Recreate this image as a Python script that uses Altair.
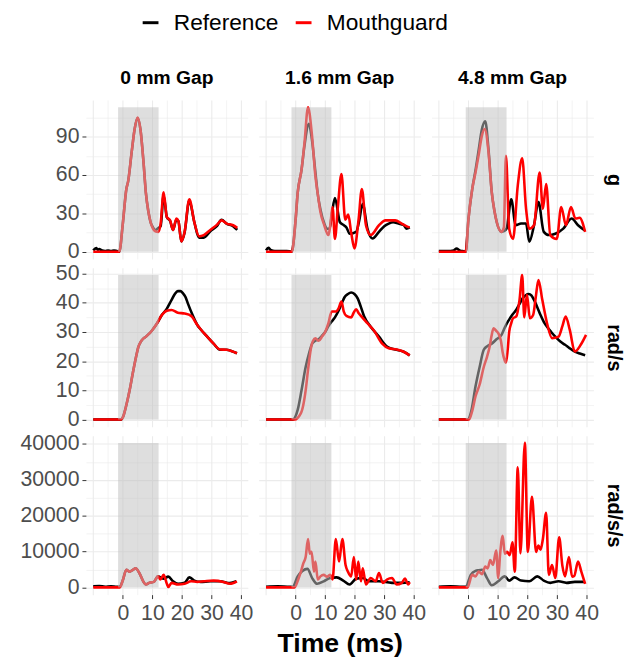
import altair as alt
import pandas as pd

FONT = "Liberation Sans"
SERIES = ["Reference", "Mouthguard"]
COLORS = ["#000000", "#ff0000"]
GAPS = ["0 mm Gap", "1.6 mm Gap", "4.8 mm Gap"]
UNITS = ["g", "rad/s", "rad/s/s"]

# ---------------- row "g" ----------------
G0_REF_T = [-10, -9, -8.5, -8, -7, -6, -5, -4, -3, -2, -1.2, 0, 1.2, 1.8, 3, 4, 5, 6, 7, 7.8, 8.6, 9.4, 10.2, 11, 12, 12.8, 13.8, 14.9, 16, 17, 18.1, 18.8, 19.8, 20.9, 22.5, 24.2, 25.8, 27.4, 29.6, 31.8, 33.4, 35.1, 37.3, 38.7]
G0_REF_V = [1, 2.8, 1.5, 2, 1, 0.6, 1, 0.5, 1, 0.5, 0, 22, 49, 55, 78, 96, 104.6, 95, 70, 46, 32, 23, 19, 17, 18.5, 20, 44, 27, 24, 17, 25, 24, 8, 15, 40, 23, 11, 11, 16, 20, 25, 22, 20, 17]
G0_MG_T = [-10, -1.2, 0, 1.2, 1.8, 3, 4, 5, 6, 7, 7.8, 8.6, 9.4, 10.2, 11, 12, 12.8, 13.8, 14.9, 16, 17, 18.1, 18.8, 19.8, 20.9, 22.5, 24.2, 25.8, 27.4, 29.6, 31.8, 33.4, 35.1, 37.3, 38.7]
G0_MG_V = [0, 0, 22, 49, 55, 78, 96, 105, 95, 70, 46, 32, 23, 18, 16, 15.5, 22, 46.5, 27, 24.5, 17, 26, 24, 8, 15.5, 41, 23, 12, 13, 17, 21, 24.5, 22, 20.7, 18.6]

G16_REF_T = [-10, -9.2, -8.5, -7, -5, -3, -1.3, 0, 0.7, 2, 3, 4.5, 5.5, 6.7, 7.5, 8.4, 9.7, 10.6, 11.5, 12.3, 13.3, 15, 16.1, 17.2, 18.3, 20.5, 21.5, 22.7, 24.3, 26, 28.2, 30, 31.5, 33, 34.8, 36.5, 37.5, 38.6]
G16_REF_V = [1, 3, 1.5, 0.5, 0.5, 0.5, 0, 25, 46, 64, 83, 100, 88, 62, 45, 33, 22, 18, 18, 30, 42, 23, 21, 19, 14, 15.5, 24, 37.5, 18, 10.3, 15.5, 20, 22, 23, 22, 21, 18, 19]
G16_MG_T = [-10, -1.3, 0, 0.7, 2, 3, 4.2, 5.5, 6.7, 7.5, 8.4, 9.7, 11.1, 11.7, 12.5, 13.3, 14.3, 15.5, 16.8, 17.8, 18.8, 19.9, 21.3, 22.4, 23.8, 25.4, 28.2, 30.4, 33.7, 35.9, 38, 38.6]
G16_MG_V = [0, 0, 25, 46, 64, 85, 113, 92, 59, 45, 31, 20.7, 13, 20, 35, 10, 35, 60.7, 25, 29, 15, 2.6, 25, 49, 20.7, 13, 20.7, 24.5, 24.5, 22, 19.4, 19]

G48_REF_T = [-10, -7, -5, -4, -3, -2, -0.9, 0, 1.3, 2.5, 3.5, 4.5, 5.7, 6.8, 7.9, 8.8, 9.6, 11.2, 12, 12.9, 14.5, 16, 17.8, 19.5, 20.6, 22.2, 23.7, 25.5, 27.2, 29.4, 32.1, 34.9, 37.1, 39.3]
G48_REF_V = [0.5, 0.5, 1, 2.5, 1, 0.5, 0, 25, 49, 65, 80, 95, 102, 80, 46.5, 32, 23, 15.5, 16, 18, 41, 20.7, 22, 22, 7.8, 20.7, 38.8, 15.5, 13, 14, 18, 26, 20.7, 16.8]
G48_MG_T = [-10, -0.9, 0, 1.3, 2.5, 3.5, 4.5, 5.5, 6.8, 7.9, 8.8, 9.6, 11.2, 12, 12.7, 13.8, 15.1, 16.7, 18.2, 19.5, 20.6, 22.2, 24.1, 25.2, 26.3, 27.7, 29.9, 31.4, 33, 34.7, 36.2, 37.6, 39.5]
G48_MG_V = [0, 0, 25, 49, 63, 76, 90, 96, 78, 46.5, 32, 23, 15.5, 19, 75, 18, 10, 51.7, 73, 33.6, 18, 20.7, 62, 33.6, 53, 13, 10, 35, 20.7, 35, 26, 26.5, 15.5]

# ---------------- row "rad/s" ----------------
V0_REF_T = [-10, -0.5, 0.1, 1.2, 2.3, 3.4, 4.5, 5.3, 6.1, 7, 7.8, 9, 10, 11.6, 13.2, 14.9, 16.5, 17.6, 18.6, 19.5, 20.3, 21.2, 22, 23.6, 25.2, 26.6, 28, 30.7, 32.9, 35.1, 36.7, 38.6]
V0_REF_V = [0, 0, 1, 5, 10, 16, 21.6, 25, 26.7, 27.8, 28.4, 29.5, 30.7, 33, 35.8, 38, 41, 43, 44, 44, 43.3, 42, 39.8, 35.8, 32.4, 30.6, 29, 26, 23.9, 23.9, 23.5, 22.7]
V0_MG_T = [-10, -0.5, 0.1, 1.2, 2.3, 3.4, 4.5, 5.3, 6.1, 7, 7.8, 9, 10, 11.6, 13.2, 14.9, 16.5, 18.6, 20.9, 23.1, 25.2, 26.6, 28, 30.7, 32.9, 35.1, 36.7, 38.6]
V0_MG_V = [0, 0, 1, 5, 10, 16, 21.6, 25, 26.7, 27.8, 28.4, 29.5, 30.7, 33, 35.8, 37.3, 37.5, 36.6, 36.3, 35.5, 32.4, 30.6, 29, 26, 24, 23.9, 23.5, 22.7]

V16_REF_T = [-10, -1, 0.7, 2, 3.4, 4.5, 5.6, 6.7, 7.8, 9, 10, 11.1, 12.2, 13.3, 14.4, 15.5, 16.6, 17.7, 18.8, 19.9, 21, 22.1, 23.2, 25.4, 28.2, 30.9, 33.7, 36.4, 38.6]
V16_REF_V = [0, 0, 3.3, 10, 18, 22.5, 26, 27, 27.5, 28.8, 30, 32, 33.6, 35, 37, 39.5, 42, 43, 43.5, 43, 41.5, 38.5, 35.3, 31.8, 28.4, 25, 24, 23.3, 22]
V16_MG_T = [-10, -0.4, 1.8, 2.6, 3.4, 4.2, 5.1, 5.9, 6.7, 7.8, 9, 10, 11.1, 12.2, 13.6, 14.5, 15.5, 16.3, 17.2, 18.8, 19.6, 20.5, 21.3, 22.1, 24.3, 26.5, 29.3, 31.5, 34.2, 36.4, 38.6]
V16_MG_V = [0, 0, 2.2, 5, 10, 17, 23.9, 27, 27.8, 27, 28.5, 30, 33, 37, 37, 38, 40.4, 37, 35.5, 35, 36.5, 37.8, 36.5, 35.5, 33, 30.5, 26, 24.4, 24, 23.3, 22]

V48_REF_T = [-10, -0.3, 1, 2.4, 3.8, 5.2, 6.5, 7.9, 9.5, 11.2, 12.3, 13.4, 14.8, 16.2, 17.3, 18.4, 19.4, 20.4, 21.3, 22.2, 23.3, 24.4, 25.5, 26.6, 28, 29.4, 31, 32.7, 34.3, 36, 37.7, 39.5]
V48_REF_V = [0, 0, 3, 11.3, 18, 23.9, 25.2, 26, 27.5, 29, 31.5, 33.6, 35.8, 37.6, 39.6, 41.6, 42.6, 43, 42.5, 41, 38.5, 35.8, 33.5, 31.8, 30, 28.4, 26.8, 25.6, 24.4, 23.3, 22.6, 22]
V48_MG_T = [-10, 0.2, 1.3, 2.4, 3.8, 5.2, 6.3, 7.2, 7.8, 8.5, 9.3, 10.1, 11, 11.6, 12.2, 12.7, 13.3, 13.8, 14.5, 15.1, 16.2, 17.3, 18.2, 18.9, 19.8, 20.8, 21.9, 22.8, 23.7, 25, 26.6, 28.3, 30.5, 31.8, 32.9, 34.3, 36, 38, 39.8]
V48_MG_V = [0, 0, 3, 7.9, 12, 18, 21.5, 25, 28.5, 31.3, 30.5, 29.6, 27, 23, 20.5, 19.5, 24, 30, 33, 34.7, 35.3, 41, 49.5, 35, 42.7, 34.7, 35.8, 42, 47.8, 41, 33, 27.9, 28.4, 32, 35.3, 30.7, 23.3, 25.6, 29]

# ---------------- row "rad/s/s" ----------------
A0_REF_T = [-10, -8, -6, -4, -2, -1, 0, 1.2, 2.3, 3.4, 4.3, 5.6, 6.9, 7.8, 8.9, 10.5, 11.9, 12.7, 13.8, 15.4, 17, 18.7, 20.9, 22.5, 24.2, 26.3, 29.6, 32.9, 36.2, 38.4]
A0_REF_V = [300, 400, 200, 300, 200, 200, 2000, 4900, 4400, 4900, 5350, 4000, 1700, 800, 1270, 1540, 3080, 2800, 2450, 3000, 1700, 1000, 1270, 2800, 1900, 1540, 1700, 1700, 1200, 1700]
A0_MG_T = [-10, -1, 0, 1.2, 2.3, 3.4, 4.3, 5.6, 6.9, 7.8, 8.9, 10.5, 11.9, 12.7, 13.8, 14.9, 15.4, 16.5, 18.7, 20.9, 23.1, 25.2, 27.4, 30.7, 34, 36.2, 38.6]
A0_MG_V = [0, 0, 2000, 4900, 4400, 4900, 5350, 4000, 1700, 800, 1270, 1540, 3080, 2200, 3500, 1000, 100, 1270, 800, 1000, 1700, 1540, 1700, 1900, 1540, 1000, 1700]

A16_REF_T = [-10, -6, -2, -1, 0.7, 2.3, 4, 5.6, 7.3, 9.5, 11.7, 13.9, 16.1, 18.3, 20.5, 22.7, 24.9, 28.2, 32.6, 35.9, 38.6]
A16_REF_V = [200, 300, 200, 200, 3080, 4600, 5170, 2600, 1000, 1700, 2600, 2800, 1900, 800, 2450, 2600, 1700, 1700, 1270, 1270, 1450]
A16_MG_T = [-10, -0.4, 1, 1.8, 2.6, 3.4, 4.2, 4.8, 5.4, 6.2, 6.7, 7.5, 8.4, 9.5, 10.6, 11.7, 12.5, 13.6, 14.7, 15.8, 16.9, 17.7, 18.8, 19.7, 20.5, 21.2, 22.1, 22.7, 23.8, 25.4, 27.1, 28.2, 29.5, 30.9, 32.6, 34.2, 35.9, 37, 38.1, 38.6]
A16_MG_V = [0, 0, 2500, 4400, 6700, 8500, 13500, 9400, 9900, 4400, 7200, 2200, 3080, 3500, 3000, 3500, 2200, 13500, 7200, 13500, 6250, 4400, 3080, 8500, 2200, 7200, 1700, 5350, 800, 2600, 1700, 4000, 1270, 2200, 2600, 800, 1270, 2450, 800, 1450]

A48_REF_T = [-10, -6, -2, -0.9, 0.8, 2.4, 3.5, 4.6, 6.3, 7.9, 10.1, 12.3, 13.8, 15.6, 17.8, 20.6, 23.3, 25.5, 27.7, 30.5, 33.2, 36, 39.3]
A48_REF_V = [200, 300, 200, 200, 3500, 4600, 4800, 4900, 2600, 600, 1700, 3080, 1900, 2800, 1900, 1700, 3080, 1900, 1270, 1700, 1270, 1540, 1540]
A48_MG_T = [-10, -0.3, 1.3, 2.4, 3.5, 4.6, 5.7, 6.5, 7.4, 8.3, 9.4, 10.1, 10.7, 11.6, 12.3, 13.1, 14, 14.9, 15.7, 16.7, 17.6, 19.1, 20.1, 21.5, 22.9, 23.7, 24.4, 25.2, 26.3, 27.2, 28.3, 29.4, 30.7, 31.8, 32.7, 34, 35.1, 35.8, 37.1, 38.2, 39.5]
A48_MG_V = [0, 0, 3500, 3080, 4400, 3700, 5800, 5300, 7600, 6250, 10300, 2600, 9000, 14400, 9400, 9900, 9000, 12600, 4400, 33500, 9500, 40300, 9900, 25300, 9900, 11700, 10500, 13500, 20800, 3500, 6250, 2600, 14000, 6000, 3080, 8500, 3000, 3200, 7200, 4400, 1000]

# shaded impact window per gap column (ms)
SHADE_START = [-1.6, -1.4, -0.9]
SHADE_END = [12.1, 12.1, 12.9]

# grid / tick breaks
X_BREAKS = [-10, -5, 0, 5, 10, 15, 20, 25, 30, 35, 40]
Y_BREAKS = [
    [0, 15, 30, 45, 60, 75, 90, 105],
    [0, 5, 10, 15, 20, 25, 30, 35, 40, 45, 50],
    [0, 5000, 10000, 15000, 20000, 25000, 30000, 35000, 40000],
]
Y_LABEL_STEP = [30, 10, 10000]

SERIES_LISTS = {
    ("g", 0): [(G0_REF_T, G0_REF_V), (G0_MG_T, G0_MG_V)],
    ("g", 1): [(G16_REF_T, G16_REF_V), (G16_MG_T, G16_MG_V)],
    ("g", 2): [(G48_REF_T, G48_REF_V), (G48_MG_T, G48_MG_V)],
    ("rad/s", 0): [(V0_REF_T, V0_REF_V), (V0_MG_T, V0_MG_V)],
    ("rad/s", 1): [(V16_REF_T, V16_REF_V), (V16_MG_T, V16_MG_V)],
    ("rad/s", 2): [(V48_REF_T, V48_REF_V), (V48_MG_T, V48_MG_V)],
    ("rad/s/s", 0): [(A0_REF_T, A0_REF_V), (A0_MG_T, A0_MG_V)],
    ("rad/s/s", 1): [(A16_REF_T, A16_REF_V), (A16_MG_T, A16_MG_V)],
    ("rad/s/s", 2): [(A48_REF_T, A48_REF_V), (A48_MG_T, A48_MG_V)],
}

rows = []
for (unit, c), pair in SERIES_LISTS.items():
    for s, (ts, vs) in zip(SERIES, pair):
        for t, v in zip(ts, vs):
            rows.append({"unit": unit, "gap": GAPS[c], "series": s, "t": t, "v": v})
df = pd.DataFrame(rows)

# ggplot-like 5% expansion
all_t = df["t"]
xr = all_t.max() - all_t.min()
X_DOMAIN = [all_t.min() - 0.05 * xr, all_t.max() + 0.05 * xr]
Y_DOMAINS, Y_TOPS = [], []
for unit in UNITS:
    vals = df.loc[df["unit"] == unit, "v"]
    r = vals.max() - vals.min()
    Y_DOMAINS.append([vals.min() - 0.05 * r, vals.max() + 0.05 * r])
    Y_TOPS.append(vals.max())

PANEL_W, PANEL_H = 164, 161
GRID_COLOR = "#ebebeb"
LABEL_COLOR = "#4d4d4d"
LINE_W = 2.6

color_enc = alt.Color(
    "series:N",
    scale=alt.Scale(domain=SERIES, range=COLORS),
    legend=alt.Legend(
        title=None, orient="none", legendX=54, legendY=-90, direction="horizontal",
        labelFont=FONT, labelFontSize=23, labelColor="black", symbolType="stroke",
        symbolStrokeWidth=3, symbolSize=256, labelOffset=12, columnPadding=10,
    ),
)


def panel(r, c):
    unit, gap = UNITS[r], GAPS[c]
    d = df[(df["unit"] == unit) & (df["gap"] == gap)]
    step = Y_LABEL_STEP[r]
    xs = alt.Scale(domain=X_DOMAIN, nice=False, zero=False)
    ys = alt.Scale(domain=Y_DOMAINS[r], nice=False, zero=False)
    grid_w_x = {"condition": {"test": "datum.value % 10 === 0", "value": 1.1}, "value": 0.6}
    grid_w_y = {"condition": {"test": f"datum.value % {step} === 0", "value": 1.1}, "value": 0.6}
    x_kw = dict(values=X_BREAKS, grid=True, gridColor=GRID_COLOR, gridWidth=grid_w_x, domain=False)
    if r == 2:
        x_kw.update(labels=True, ticks=True, tickSize=4, tickColor="#333333",
                    tickOpacity={"condition": {"test": "datum.value >= 0 && datum.value % 10 === 0", "value": 1}, "value": 0},
                    labelExpr="datum.value >= 0 && datum.value % 10 === 0 ? datum.label : ''",
                    labelFont=FONT, labelFontSize=21.5, labelColor=LABEL_COLOR, labelPadding=4,
                    labelFlush=False, labelOverlap=False)
        if c == 1:
            x_kw.update(title="Time (ms)", titleFont=FONT, titleFontSize=27, titleFontWeight="bold",
                        titleColor="black", titlePadding=7)
        else:
            x_kw.update(title=None)
    else:
        x_kw.update(labels=False, ticks=False, title=None)
    y_kw = dict(values=Y_BREAKS[r], grid=True, gridColor=GRID_COLOR, gridWidth=grid_w_y, domain=False)
    if c == 0:
        y_kw.update(orient="left", labels=True, ticks=True, tickSize=4, tickColor="#333333",
                    tickOpacity={"condition": {"test": f"datum.value % {step} === 0", "value": 1}, "value": 0},
                    labelExpr=f"datum.value % {step} === 0 ? datum.label : ''", format="d",
                    labelFont=FONT, labelFontSize=21.5, labelColor=LABEL_COLOR, labelPadding=3,
                    labelFlush=False, labelOverlap=False, title=None)
    elif c == 2:
        y_kw.update(orient="right", labels=False, ticks=False, title=unit, titleFont=FONT,
                    titleFontSize=20, titleFontWeight="bold", titleColor="black", titleAngle=90,
                    titlePadding=10)
    else:
        y_kw.update(labels=False, ticks=False, title=None)
    xa, ya = alt.Axis(**x_kw), alt.Axis(**y_kw)

    ref = alt.Chart(d[d["series"] == "Reference"]).mark_line(strokeWidth=LINE_W, interpolate="monotone").encode(
        x=alt.X("t:Q", scale=xs, axis=xa), y=alt.Y("v:Q", scale=ys, axis=ya), color=color_enc)
    mg = alt.Chart(d[d["series"] == "Mouthguard"]).mark_line(strokeWidth=LINE_W, interpolate="monotone").encode(
        x=alt.X("t:Q", scale=xs, axis=xa), y=alt.Y("v:Q", scale=ys, axis=ya), color=color_enc)
    shade_df = pd.DataFrame({"t": [SHADE_START[c]], "t2": [SHADE_END[c]], "v": [0.0], "v2": [Y_TOPS[r]]})
    shade = alt.Chart(shade_df).mark_rect(color="#c0c0c0", opacity=0.52).encode(
        x=alt.X("t:Q", scale=xs, axis=xa), x2="t2:Q",
        y=alt.Y("v:Q", scale=ys, axis=ya), y2="v2:Q")
    layer = alt.layer(ref, mg, shade).properties(width=PANEL_W, height=PANEL_H)
    if r == 0:
        layer = layer.properties(title=alt.TitleParams(gap, font=FONT, fontSize=19.5, fontWeight="bold",
                                                       color="black", anchor="middle", offset=12))
    return layer


panels = [panel(r, c) for r in range(3) for c in range(3)]

chart = alt.concat(*panels, columns=3, spacing={"row": 9, "column": 11}, bounds="flush").resolve_scale(
    x="independent", y="independent"
).properties(
    padding={"left": 20, "top": 7, "right": 2, "bottom": 2}, background="white"
).configure(font=FONT, view=alt.ViewConfig(stroke=None))

chart.save("out.html", embed_options={"renderer": "svg", "actions": False})
